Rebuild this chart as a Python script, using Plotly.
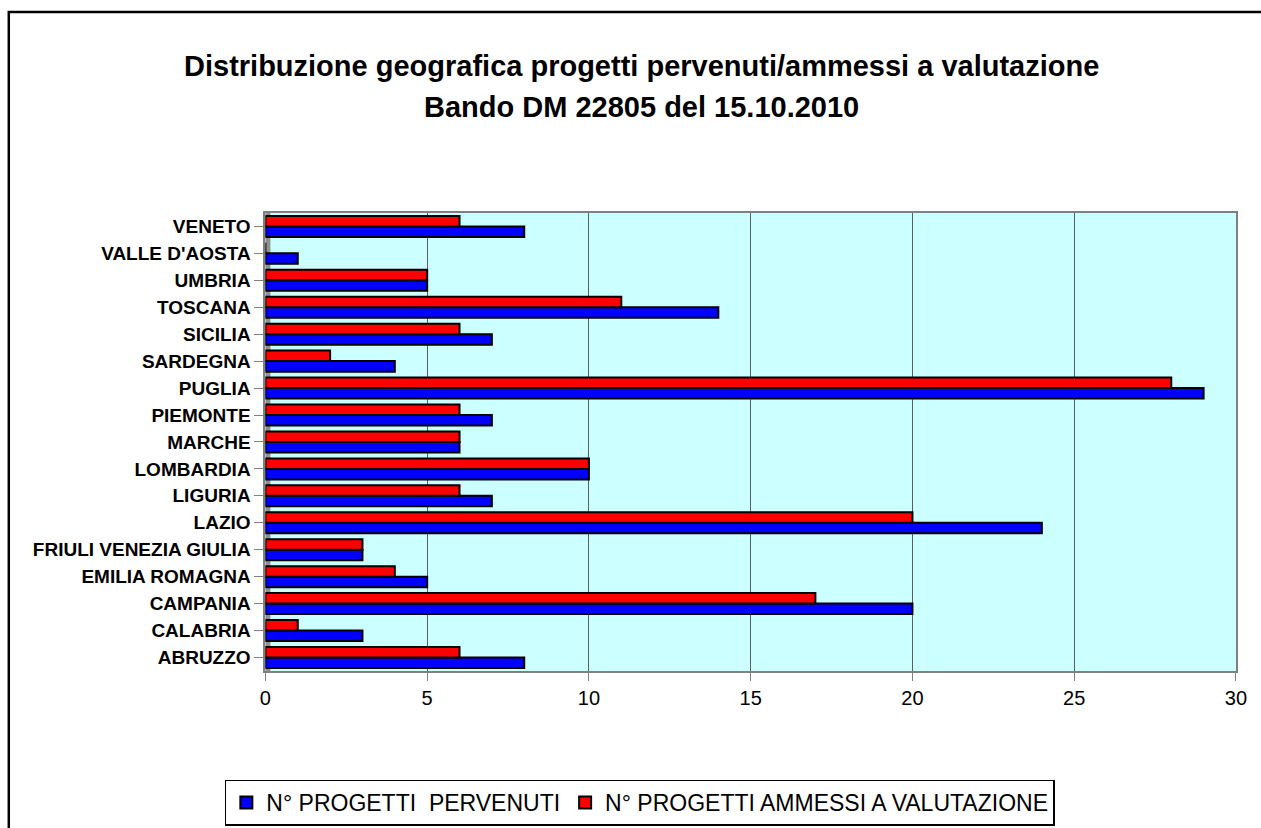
import plotly.graph_objects as go

W, H = 1261, 828

regions = ["ABRUZZO", "CALABRIA", "CAMPANIA", "EMILIA ROMAGNA", "FRIULI VENEZIA GIULIA",
           "LAZIO", "LIGURIA", "LOMBARDIA", "MARCHE", "PIEMONTE", "PUGLIA", "SARDEGNA",
           "SICILIA", "TOSCANA", "UMBRIA", "VALLE D'AOSTA", "VENETO"]
pervenuti = [8, 3, 20, 5, 3, 24, 7, 10, 6, 7, 29, 4, 7, 14, 5, 1, 8]
ammessi = [6, 1, 17, 4, 3, 20, 6, 10, 6, 6, 28, 2, 6, 11, 5, 0, 6]
x_ticks = [0, 5, 10, 15, 20, 25, 30]
title_lines = ["Distribuzione geografica progetti pervenuti/ammessi a valutazione",
               "Bando DM 22805 del 15.10.2010"]

FONT = "Liberation Sans, Arial, sans-serif"

fig = go.Figure()
fig.add_trace(go.Bar(y=regions, x=pervenuti, orientation="h", name="N° PROGETTI  PERVENUTI",
                     marker=dict(color="#0000FF", line=dict(color="black", width=2))))
fig.add_trace(go.Bar(y=regions, x=ammessi, orientation="h", name="N° PROGETTI AMMESSI A VALUTAZIONE",
                     marker=dict(color="#FF0000", line=dict(color="black", width=2))))

px = lambda v: ((v - 5.2) / 0.988) / W
py = lambda v: 1 - (v / 0.9956) / H

fig.update_layout(
    width=W, height=H,
    margin=dict(l=0, r=0, t=0, b=0),
    paper_bgcolor="white",
    plot_bgcolor="#CCFFFF",
    barmode="group",
    bargap=0.22,
    bargroupgap=0.0,
    font=dict(family=FONT, color="black"),
    xaxis=dict(
        domain=[px(265), px(1237)], range=[0, 30], tickvals=x_ticks,
        showgrid=True, gridcolor="#556060", gridwidth=1,
        zeroline=False, showline=True, linecolor="#808080", linewidth=2, mirror=True,
        ticks="outside", ticklen=8, tickcolor="#808080",
        tickfont=dict(size=20, family=FONT),
        fixedrange=True,
    ),
    yaxis=dict(
        domain=[py(668), py(212)],
        showgrid=False, zeroline=False, showline=True, linecolor="#808080", linewidth=2, mirror=True,
        ticks="outside", ticklen=9, tickcolor="#808080",
        tickfont=dict(size=19, family=FONT, weight="bold"),
        range=[-0.5, len(regions) - 0.5],
        fixedrange=True,
    ),
    legend=dict(
        orientation="h", x=px(640), xanchor="center", y=py(799), yanchor="middle",
        bordercolor="black", borderwidth=1.5, bgcolor="white",
        font=dict(size=23, family=FONT),
        itemsizing="constant", traceorder="normal",
    ),
    annotations=[
        dict(text="<b>%s</b>" % title_lines[0], xref="paper", yref="paper",
             x=px(641.5), y=py(66), xanchor="center", yanchor="middle", showarrow=False,
             font=dict(size=29, family=FONT, color="black")),
        dict(text="<b>%s</b>" % title_lines[1], xref="paper", yref="paper",
             x=px(641.5), y=py(107), xanchor="center", yanchor="middle", showarrow=False,
             font=dict(size=29, family=FONT, color="black")),
    ],
    shapes=[
        dict(type="rect", xref="paper", yref="paper",
             x0=px(8), x1=px(1290), y0=-0.05, y1=py(12),
             line=dict(color="black", width=2.5), fillcolor="rgba(0,0,0,0)", layer="below"),
        dict(type="rect", xref="paper", yref="paper",
             x0=px(265), x1=px(270), y0=py(668), y1=py(212),
             line=dict(width=0), fillcolor="#909090", layer="below"),
    ],
    showlegend=True,
)

fig.write_html("out.html",
               post_script="document.body.style.margin='0';document.body.style.overflow='hidden';",
               config={"displayModeBar": False})
